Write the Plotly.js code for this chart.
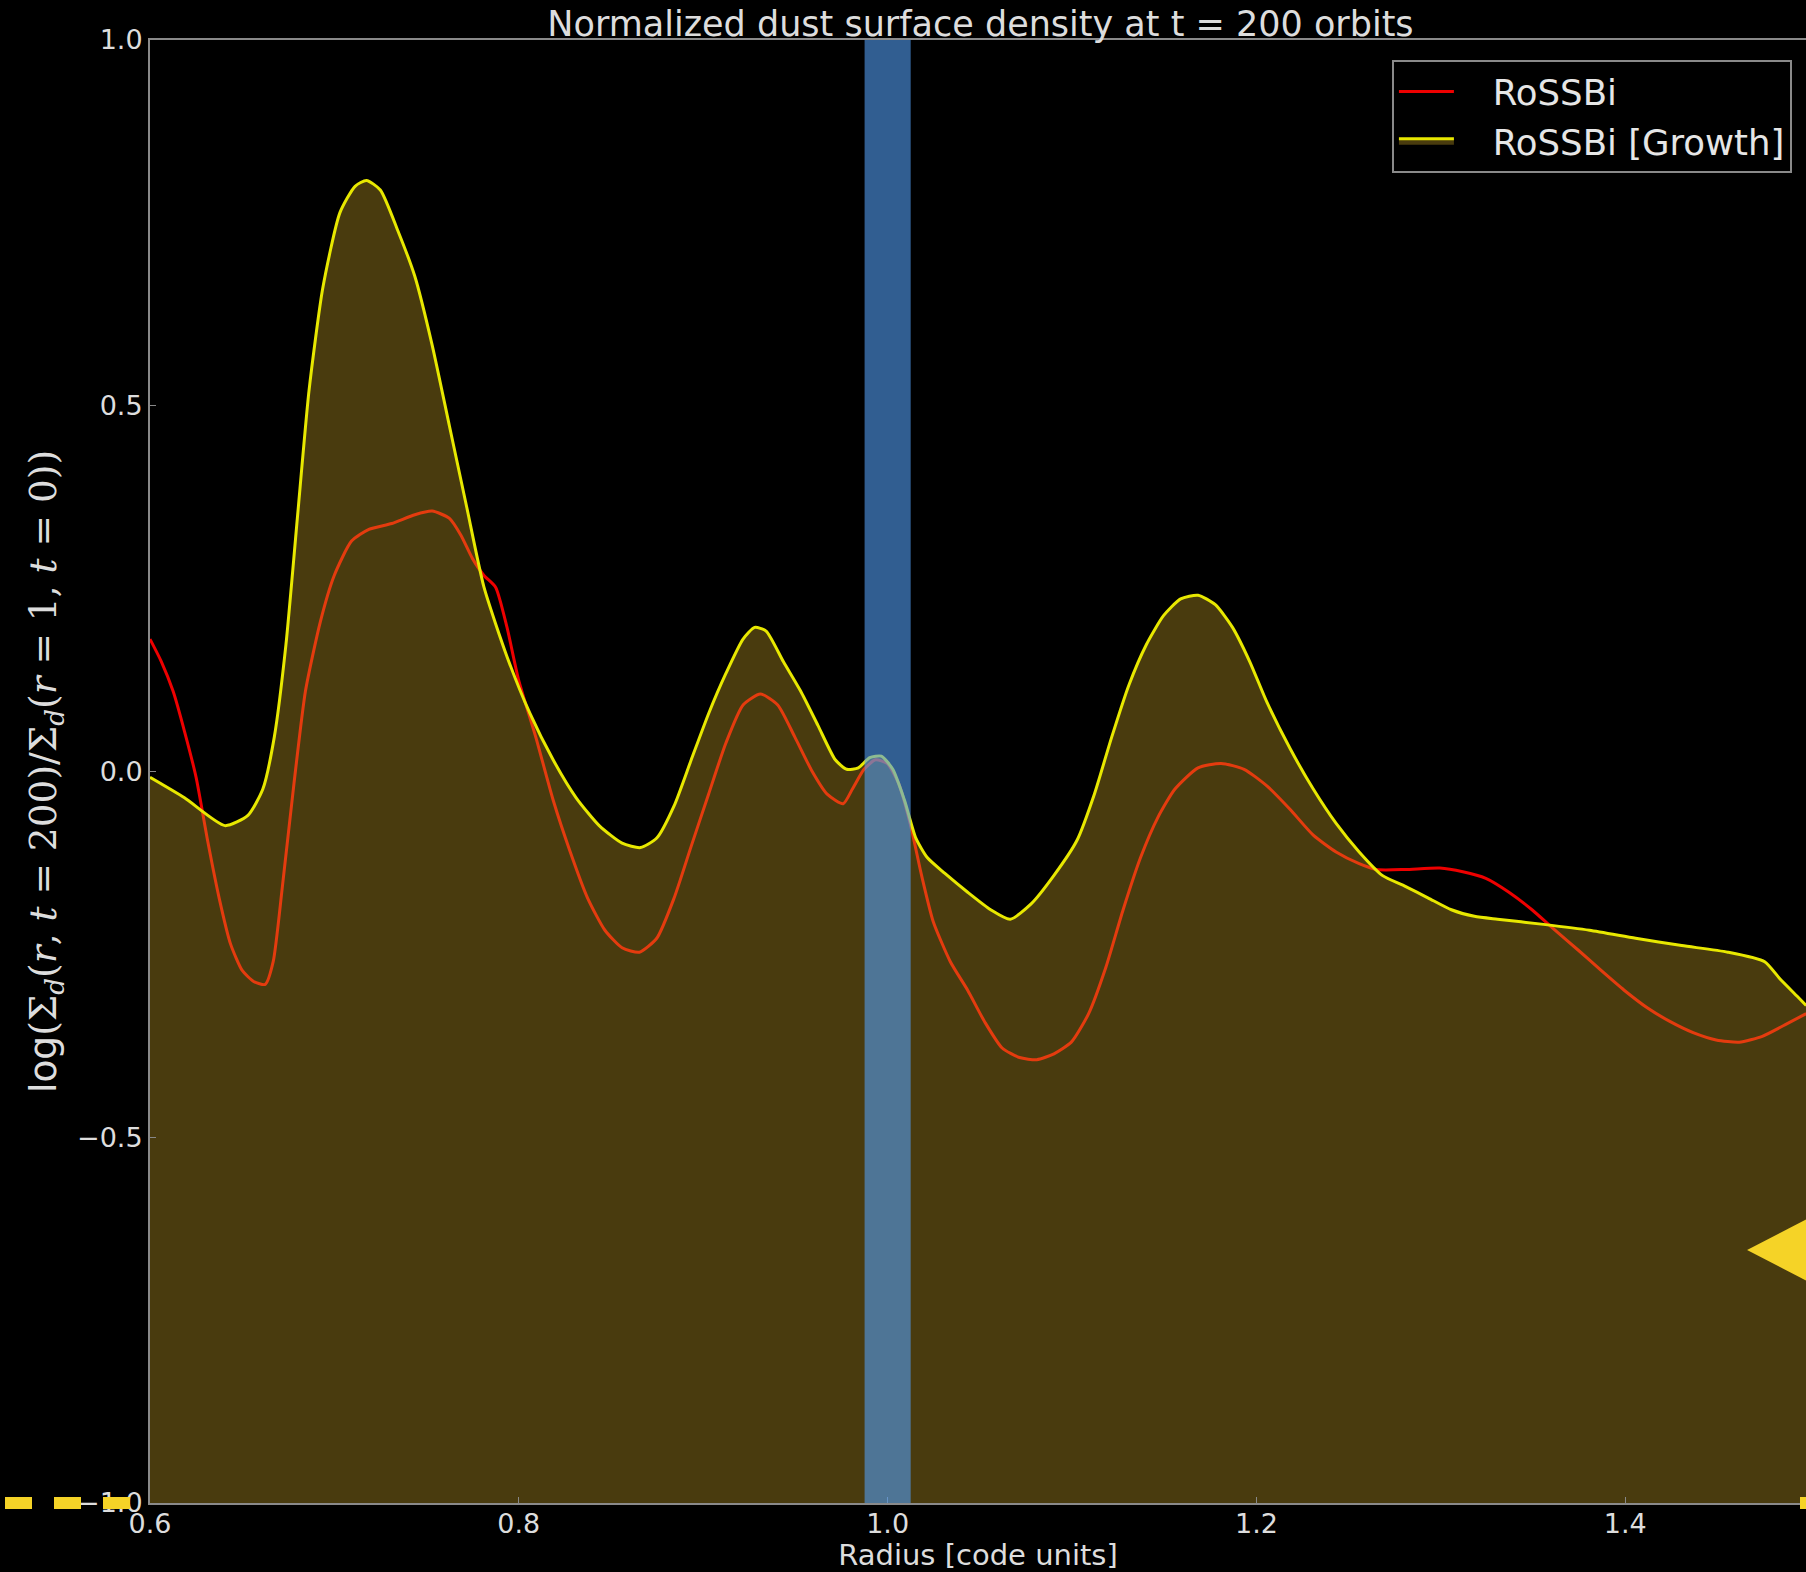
<!DOCTYPE html>
<html>
<head>
<meta charset="utf-8">
<script src="https://cdn.plot.ly/plotly-3.0.1.min.js"></script>
<style>html,body{margin:0;padding:0;background:#000;}</style>
</head>
<body>
<div id="chart" style="width:1806px;height:1572px;"></div>
<script>
// Radius values and log-normalized dust surface density, RoSSBi (no growth)
var radiusRossbi = [0.600,0.6062,0.6125,0.6187,0.6250,0.6312,0.6375,0.6437,0.6500,0.6562,0.6625,0.6668,0.6718,0.6781,0.6843,0.6924,0.6999,0.7093,0.7187,0.7311,0.7436,0.7530,0.7624,0.7686,0.7749,0.7811,0.7874,0.7936,0.7998,0.8092,0.8186,0.8279,0.8373,0.8467,0.8560,0.8654,0.8748,0.8842,0.8935,0.9029,0.9123,0.9216,0.9310,0.9404,0.9497,0.9591,0.9672,0.9759,0.9809,0.9872,0.9934,0.9997,1.0059,1.0122,1.0184,1.0247,1.0340,1.0434,1.0528,1.0621,1.0715,1.0809,1.0902,1.0996,1.1090,1.1183,1.1277,1.1371,1.1465,1.1558,1.1683,1.1808,1.1933,1.2058,1.2183,1.2308,1.2432,1.2557,1.2651,1.2807,1.2994,1.3119,1.3244,1.3369,1.3494,1.3619,1.3744,1.3869,1.3994,1.4119,1.4244,1.4368,1.4493,1.4618,1.4743,1.4868,1.4981];
var densityRossbi = [0.181,0.150,0.110,0.055,-0.008,-0.094,-0.173,-0.236,-0.272,-0.287,-0.291,-0.260,-0.157,-0.016,0.110,0.205,0.268,0.315,0.331,0.339,0.351,0.356,0.346,0.323,0.291,0.268,0.252,0.197,0.126,0.047,-0.039,-0.110,-0.173,-0.217,-0.241,-0.247,-0.228,-0.173,-0.102,-0.031,0.039,0.091,0.106,0.091,0.047,0.000,-0.031,-0.044,-0.024,0.003,0.016,0.011,-0.016,-0.071,-0.142,-0.205,-0.260,-0.299,-0.343,-0.378,-0.391,-0.394,-0.386,-0.370,-0.331,-0.268,-0.189,-0.118,-0.063,-0.024,0.005,0.011,0.003,-0.020,-0.052,-0.087,-0.110,-0.126,-0.134,-0.134,-0.132,-0.137,-0.146,-0.165,-0.189,-0.217,-0.244,-0.272,-0.299,-0.323,-0.342,-0.357,-0.367,-0.370,-0.362,-0.346,-0.331];

// RoSSBi [Growth]
var radiusGrowth = [0.600,0.6187,0.6406,0.6531,0.6612,0.6674,0.6737,0.6799,0.6862,0.6937,0.7030,0.7112,0.7174,0.7249,0.7343,0.7436,0.7530,0.7624,0.7717,0.7811,0.7936,0.8061,0.8186,0.8311,0.8436,0.8560,0.8660,0.8748,0.8842,0.8935,0.9029,0.9123,0.9216,0.9279,0.9341,0.9435,0.9528,0.9622,0.9716,0.9778,0.9841,0.9903,0.9966,1.0028,1.0091,1.0153,1.0216,1.0309,1.0434,1.0559,1.0665,1.0778,1.0902,1.1027,1.1121,1.1215,1.1308,1.1402,1.1496,1.1589,1.1683,1.1777,1.1870,1.1964,1.2058,1.2183,1.2308,1.2432,1.2557,1.2682,1.2807,1.2932,1.3057,1.3182,1.3307,1.3557,1.3806,1.4056,1.4306,1.4556,1.4756,1.4837,1.4931,1.4981];
var densityGrowth = [-0.008,-0.036,-0.074,-0.060,-0.024,0.047,0.173,0.346,0.520,0.661,0.764,0.800,0.808,0.795,0.740,0.677,0.583,0.472,0.362,0.252,0.157,0.079,0.016,-0.036,-0.074,-0.098,-0.104,-0.091,-0.047,0.016,0.079,0.134,0.181,0.197,0.192,0.150,0.110,0.063,0.016,0.003,0.005,0.019,0.021,0.003,-0.039,-0.091,-0.118,-0.139,-0.165,-0.189,-0.202,-0.181,-0.142,-0.094,-0.031,0.047,0.118,0.173,0.213,0.236,0.241,0.228,0.197,0.150,0.094,0.031,-0.024,-0.071,-0.110,-0.142,-0.157,-0.173,-0.189,-0.198,-0.202,-0.209,-0.217,-0.228,-0.238,-0.247,-0.260,-0.283,-0.307,-0.320];

var seriesNames = ['RoSSBi', 'RoSSBi [Growth]'];
var xTickVals = [0.6, 0.8, 1.0, 1.2, 1.4];
var yTickVals = [-1.0, -0.5, 0.0, 0.5, 1.0];
var yRange = [-1, 1];
var xRange = [0.6, 1.498];
var bandRange = [0.9875, 1.0125];

var baseline = radiusGrowth.map(function () { return yRange[0]; });
var pad = '\u00a0\u00a0\u00a0';

var traces = [
  {x: radiusRossbi, y: densityRossbi, name: pad + seriesNames[0], type: 'scatter', mode: 'lines',
   line: {color: '#ee0000', width: 3, shape: 'spline', smoothing: 0.6}},
  {x: radiusGrowth, y: baseline, type: 'scatter', mode: 'lines', showlegend: false,
   hoverinfo: 'skip', line: {width: 0, color: 'rgba(0,0,0,0)'}},
  {x: radiusGrowth, y: densityGrowth, name: pad + seriesNames[1], type: 'scatter', mode: 'lines',
   fill: 'tonexty', fillcolor: 'rgba(210,170,40,0.35)',
   line: {color: '#e8e800', width: 3, shape: 'spline', smoothing: 0.6}}
];

var axisFont = {family: 'DejaVu Sans', size: 27, color: '#dddddd'};

var layout = {
  width: 1806, height: 1572, autosize: false,
  paper_bgcolor: '#000000', plot_bgcolor: '#000000',
  margin: {l: 150, r: 0, t: 40, b: 69, pad: 0},
  title: {text: 'Normalized dust surface density at t = 200 orbits',
          font: {family: 'DejaVu Sans', size: 35, color: '#dddddd'},
          x: 0.5429, xref: 'container', xanchor: 'center',
          y: 1 - 24 / 1572, yref: 'container', yanchor: 'middle'},
  xaxis: {range: xRange, tickvals: xTickVals, tickformat: '.1f', ticks: 'inside', ticklen: 6,
          tickcolor: '#888888', showgrid: false, zeroline: false, showline: true, mirror: true,
          linecolor: '#8a8a8a', linewidth: 2, tickfont: axisFont, automargin: false,
          ticklabelstandoff: -4,
          title: {text: 'Radius [code units]', font: {family: 'DejaVu Sans', size: 29, color: '#dddddd'}, standoff: 6}},
  yaxis: {range: yRange, tickvals: yTickVals, tickformat: '.1f', ticks: 'inside', ticklen: 6,
          tickcolor: '#888888', showgrid: false, zeroline: false, showline: true, mirror: false,
          linecolor: '#8a8a8a', linewidth: 2, tickfont: axisFont, automargin: false,
          title: {text: '<span style="font-family:DejaVu Sans">log</span>(Σ<sub><i>d</i></sub>(<i>r</i>, <i>t</i> = 200)/Σ<sub><i>d</i></sub>(<i>r</i> = 1, <i>t</i> = 0))',
                  font: {family: 'DejaVu Serif', size: 37.5, color: '#dddddd'}, standoff: 9}},
  legend: {x: 0.9915, xanchor: 'right', y: 0.9863, yanchor: 'top', traceorder: 'normal',
           bgcolor: '#000000', bordercolor: '#8a8a8a', borderwidth: 2,
           font: {family: 'DejaVu Sans', size: 35.5, color: '#e6e6e6'}, itemwidth: 55},
  shapes: [
    {type: 'rect', xref: 'x', yref: 'paper', x0: bandRange[0], x1: bandRange[1], y0: 0, y1: 1,
     fillcolor: 'rgba(82,157,242,0.6)', line: {width: 0}, layer: 'above'},
    {type: 'line', xref: 'paper', yref: 'paper', x0: -145 / 1656, x1: -17 / 1656, y0: 0, y1: 0,
     line: {color: '#f5d327', width: 12, dash: '27px,22px'}, layer: 'above'},
    {type: 'line', xref: 'paper', yref: 'paper', x0: 1650 / 1656, x1: 1.01, y0: 0, y1: 0,
     line: {color: '#f5d327', width: 12}, layer: 'above'},
    {type: 'path', xref: 'paper', yref: 'paper',
     path: 'M 0.9644 0.1729 L 1.02 0.2054 L 1.02 0.1404 Z',
     fillcolor: '#f5d327', line: {width: 0}, layer: 'above'}
  ]
};

Plotly.newPlot('chart', traces, layout, {displayModeBar: false, staticPlot: true});
</script>
</body>
</html>
